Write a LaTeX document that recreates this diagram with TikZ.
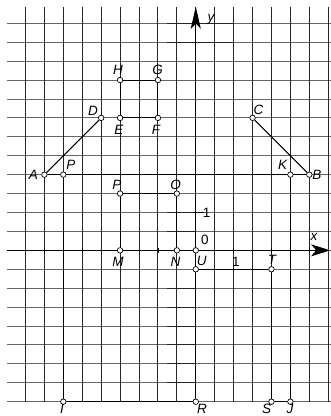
\documentclass[tikz,border=0pt]{standalone}
\usepackage{fontspec}
\setmainfont{Liberation Sans}
\usetikzlibrary{arrows.meta}
\begin{document}
\begin{tikzpicture}[x=1pt,y=-1pt,
  hgrid/.style={black!60,line width=0.9pt},
  vgrid/.style={black!85,line width=0.9pt},
  outline/.style={black,line width=1.1pt},
  tick/.style={black,line width=0.8pt},
  pt/.style={circle,draw=black,fill=white,line width=0.7pt,inner sep=0pt,minimum size=5.5pt},
  lab/.style={inner sep=0pt,font=\fontsize{13.5}{14}\selectfont\itshape},
  num/.style={inner sep=0pt,font=\fontsize{13.5}{14}\selectfont}]
\useasboundingbox (0,0) rectangle (331,416);
\begin{scope}[shift={(25.5,23.3)},x=18.92pt,y=-18.92pt]
  % grid
  \foreach \r in {0,...,20} \draw[hgrid] (-0.994,\r) -- (16.15,\r);
  \foreach \c in {0,...,16} \draw[vgrid] (\c,-0.877) -- (\c,20);
  \foreach \r in {0,1} \draw[vgrid] (7.48,\r) -- (11,\r);
  \foreach \r in {10,11,14,15,16,17,18,19} \draw[vgrid] (7.48,\r) -- (9,\r);
  % axes
  \coordinate (xl) at (-0.994,12);
  \coordinate (xr) at (16.1,12);
  \coordinate (yb) at (9,20);
  \coordinate (yt) at (9,-0.877);
  \draw[outline,-{Stealth[length=19pt,width=12pt,inset=5pt]}] (xl) -- (xr);
  \draw[outline,-{Stealth[length=22pt,width=10pt,inset=5pt]}] (yb) -- (yt);
  \foreach \c in {1,3,5,7,11,13,15} \draw[tick] (\c,11.85) -- (\c,12.15);
  \coordinate (ytl) at (8.9,10);
  \coordinate (ytr) at (9.42,10);
  \draw[tick] (ytl) -- (ytr);
  % points
  \node[pt] (A) at (1,8) {};
  \node[pt] (P1) at (2,8) {};
  \node[pt] (K) at (14,8) {};
  \node[pt] (B) at (15,8) {};
  \node[pt] (D) at (4,5) {};
  \node[pt] (E) at (5,5) {};
  \node[pt] (F) at (7,5) {};
  \node[pt] (H) at (5,3) {};
  \node[pt] (G) at (7,3) {};
  \node[pt] (C) at (12,5) {};
  \node[pt] (P2) at (5,9) {};
  \node[pt] (O) at (8,9) {};
  \node[pt] (M) at (5,12) {};
  \node[pt] (N) at (8,12) {};
  \node[pt] (Z) at (9,12) {};
  \node[pt] (U) at (9,13) {};
  \node[pt] (T) at (13,13) {};
  \node[pt] (I) at (2,20) {};
  \node[pt] (R) at (9,20) {};
  \node[pt] (S) at (13,20) {};
  \node[pt] (J) at (14,20) {};
  % outlines
  \draw[outline] (A) -- (D);
  \draw[outline] (C) -- (B);
  \draw[outline] (A) -- (P1) -- (K) -- (B);
  \draw[outline] (P1) -- (I) -- (R) -- (U) -- (T) -- (S) -- (J) -- (K);
  \draw[outline] (H) -- (G) -- (F) -- (E) -- (H);
  \draw[outline] (P2) -- (O) -- (N) -- (M) -- (P2);
\end{scope}
% labels (pixel coordinates)
\node[lab] (lA) at (33.5,175) {A};
\node[lab] (lP1) at (71,165) {P};
\node[lab] (lK) at (282.7,165) {K};
\node[lab] (lB) at (317,175) {B};
\node[lab] (lD) at (93,111) {D};
\node[lab] (lC) at (258.5,110) {C};
\node[lab] (lE) at (119,130) {E};
\node[lab] (lF) at (156,130) {F};
\node[lab] (lH) at (118,70) {H};
\node[lab] (lG) at (157.5,70) {G};
\node[lab] (lP2) at (117,185) {P};
\node[lab] (lO) at (175.7,185) {O};
\node[lab] (lM) at (118,262) {M};
\node[lab] (lN) at (175.5,262) {N};
\node[lab] (lU) at (201.7,261) {U};
\node[lab] (lT) at (272,260) {T};
\node[lab] (lI) at (62,409) {I};
\node[lab] (lR) at (202,409) {R};
\node[lab] (lS) at (266.7,409) {S};
\node[lab] (lJ) at (290,409) {J};
\node[lab] (lx) at (314,236.5) {x};
\node[lab] (ly) at (211,19) {y};
\node[num] (l0) at (205,240) {0};
\node[num] (l1y) at (206.7,213) {1};
\node[num] (l1x) at (236,262) {1};
\end{tikzpicture}
\end{document}
